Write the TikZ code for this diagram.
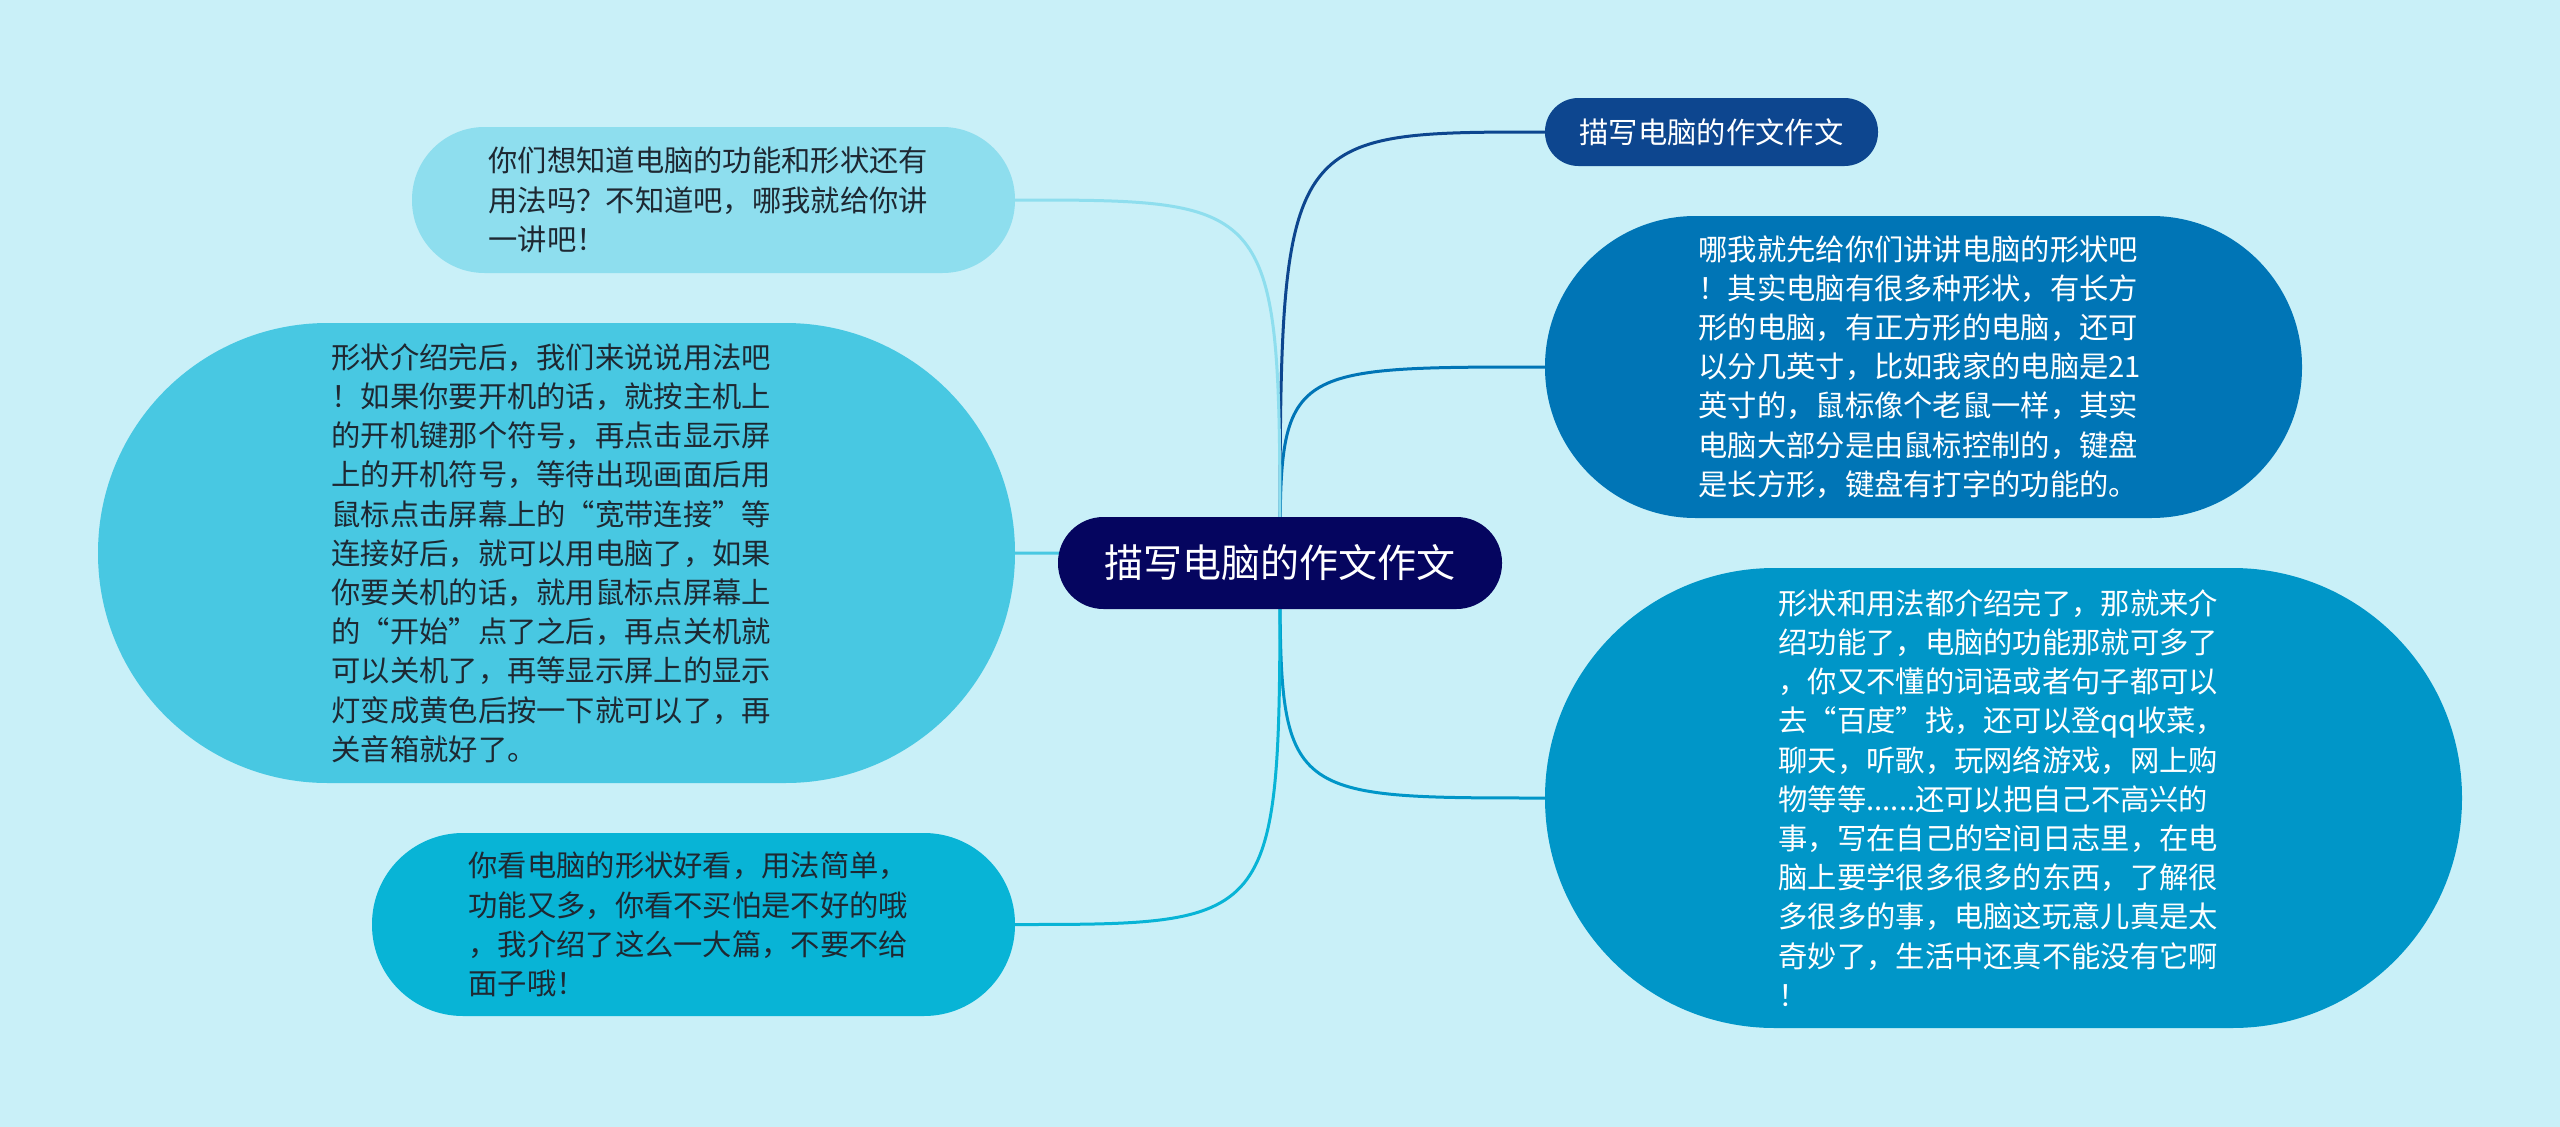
\documentclass[tikz,border=0pt]{standalone}
\usepackage{fontspec}
\setmainfont{Noto Sans CJK SC}
\definecolor{bgcol}{RGB}{201,240,248}
\definecolor{rootcol}{RGB}{5,5,95}
\definecolor{navycol}{RGB}{13,70,143}
\definecolor{shapecol}{RGB}{0,117,182}
\definecolor{funccol}{RGB}{0,150,200}
\definecolor{askcol}{RGB}{142,222,238}
\definecolor{usecol}{RGB}{72,200,226}
\definecolor{endcol}{RGB}{8,180,214}
\definecolor{inkcol}{RGB}{30,40,50}
\pgfdeclarelayer{bg}
\pgfsetlayers{bg,main}
\tikzset{
  bubble/.style n args={4}{rectangle, fill=#1, minimum width=#2pt,
    minimum height=#3pt, rounded corners=#4pt, inner sep=0pt},
  body/.style={font=\fontsize{29.3}{39.2}\selectfont, text width=450pt, align=left},
  branch/.style={line width=3pt},
}
\begin{document}
\begin{tikzpicture}[x=1pt,y=-1pt]
  \useasboundingbox (0,0) rectangle (2560,1127);
  % centre topic
  \node[bubble={rootcol}{444}{92}{45.5}, text=white,
    font=\fontsize{39}{47}\selectfont] (root) at (1280,563) {描写电脑的作文作文};
  % right side
  \node[bubble={navycol}{333}{68}{33.5}, text=white,
    font=\fontsize{29.3}{36}\selectfont] (title) at (1711.5,132) {描写电脑的作文作文};
  \node[bubble={shapecol}{757}{302}{150.5}, text=white, body] (shape) at (1923.5,367)
    {哪我就先给你们讲讲电脑的形状吧\\！其实电脑有很多种形状，有长方\\形的电脑，有正方形的电脑，还可\\以分几英寸，比如我家的电脑是21\\英寸的，鼠标像个老鼠一样，其实\\电脑大部分是由鼠标控制的，键盘\\是长方形，键盘有打字的功能的。};
  \node[bubble={funccol}{917}{460}{229.5}, text=white, body] (func) at (2003.5,798)
    {形状和用法都介绍完了，那就来介\\绍功能了，电脑的功能那就可多了\\，你又不懂的词语或者句子都可以\\去“百度”找，还可以登qq收菜，\\聊天，听歌，玩网络游戏，网上购\\物等等......还可以把自己不高兴的\\事，写在自己的空间日志里，在电\\脑上要学很多很多的东西，了解很\\多很多的事，电脑这玩意儿真是太\\奇妙了，生活中还真不能没有它啊\\！};
  % left side
  \node[bubble={askcol}{603}{146}{72.5}, text=inkcol, body] (ask) at (713.5,200)
    {你们想知道电脑的功能和形状还有\\用法吗？不知道吧，哪我就给你讲\\一讲吧！};
  \node[bubble={usecol}{917}{460}{229.5}, text=inkcol, body] (use) at (556.5,553)
    {形状介绍完后，我们来说说用法吧\\！如果你要开机的话，就按主机上\\的开机键那个符号，再点击显示屏\\上的开机符号，等待出现画面后用\\鼠标点击屏幕上的“宽带连接”等\\连接好后，就可以用电脑了，如果\\你要关机的话，就用鼠标点屏幕上\\的“开始”点了之后，再点关机就\\可以关机了，再等显示屏上的显示\\灯变成黄色后按一下就可以了，再\\关音箱就好了。};
  \node[bubble={endcol}{643}{183}{91}, text=inkcol, body] (end) at (693.5,924.5)
    {你看电脑的形状好看，用法简单，\\功能又多，你看不买怕是不好的哦\\，我介绍了这么一大篇，不要不给\\面子哦！};
  \begin{pgfonlayer}{bg}
    \fill[bgcol] (0,0) rectangle (2560,1127);
    \draw[branch, navycol] (root.center) .. controls (root.center |- title.west) .. (title.west);
    \draw[branch, shapecol] (root.center) .. controls (root.center |- shape.west) .. (shape.west);
    \draw[branch, funccol] (root.center) .. controls (root.center |- func.west) .. (func.west);
    \draw[branch, askcol] (root.center) .. controls (root.center |- ask.east) .. (ask.east);
    \draw[branch, usecol] (root.center) .. controls (root.center |- use.east) .. (use.east);
    \draw[branch, endcol] (root.center) .. controls (root.center |- end.east) .. (end.east);
  \end{pgfonlayer}
\end{tikzpicture}
\end{document}
